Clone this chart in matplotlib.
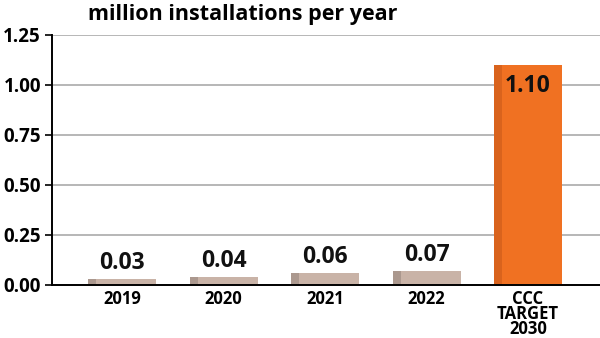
import matplotlib.pyplot as plt
import numpy as np

categories = ["2019", "2020", "2021", "2022", "CCC\nTARGET\n2030"]
values = [0.03, 0.04, 0.06, 0.07, 1.10]
labels = ["0.03", "0.04", "0.06", "0.07", "1.10"]
yticks = [0.0, 0.25, 0.5, 0.75, 1.0, 1.25]

colors = ["#c9b3a7"] * 4 + ["#f07122"]
shade = ["#8f7f77"] * 4 + ["#c4561a"]

plt.rcParams["font.family"] = ["Open Sans", "DejaVu Sans"]
plt.rcParams["font.weight"] = "bold"

fig = plt.figure(figsize=(6, 3.38), dpi=100)
ax = fig.add_axes([0.087, 0.157, 0.913, 0.74])

x = np.arange(len(categories))
w = 0.67
ax.bar(x, values, width=w, color=colors, zorder=2)
# darker strip on the left of each bar
ax.bar(x - w / 2, values, width=0.08, align="edge", color=shade, alpha=0.5, zorder=3)

for i, (v, lab) in enumerate(zip(values, labels)):
    if v > 0.5:
        ax.text(i, v - 0.105, lab, ha="center", va="center", fontsize=16.5, fontweight="bold", color="#111111", zorder=4)
    else:
        ax.text(i, v + 0.022, lab, ha="center", va="bottom", fontsize=16.5, fontweight="bold", color="#111111", zorder=4)

ax.set_xlim(-0.69, 4.71)
ax.set_ylim(0, 1.25)
ax.set_yticks(yticks)
ax.set_yticklabels([f"{t:.2f}" for t in yticks], fontsize=13.5, fontweight="bold")
ax.set_xticks(x)
ax.set_xticklabels(categories, fontsize=12, fontweight="bold", linespacing=0.78)
ax.tick_params(axis="x", length=0, pad=4)
ax.tick_params(axis="y", length=5, width=1.2, pad=3)

ax.grid(axis="y", color="#aaaaaa", linewidth=1.2, zorder=0)
ax.set_axisbelow(True)
for s in ["top", "right"]:
    ax.spines[s].set_visible(False)
ax.spines["left"].set_linewidth(1.4)
ax.spines["bottom"].set_linewidth(1.4)
ax.spines["bottom"].set_zorder(5)

fig.text(0.147, 0.958, "million installations per year", fontsize=15.5, fontweight="bold", va="center", ha="left")

fig.savefig("out.png", dpi=100)
